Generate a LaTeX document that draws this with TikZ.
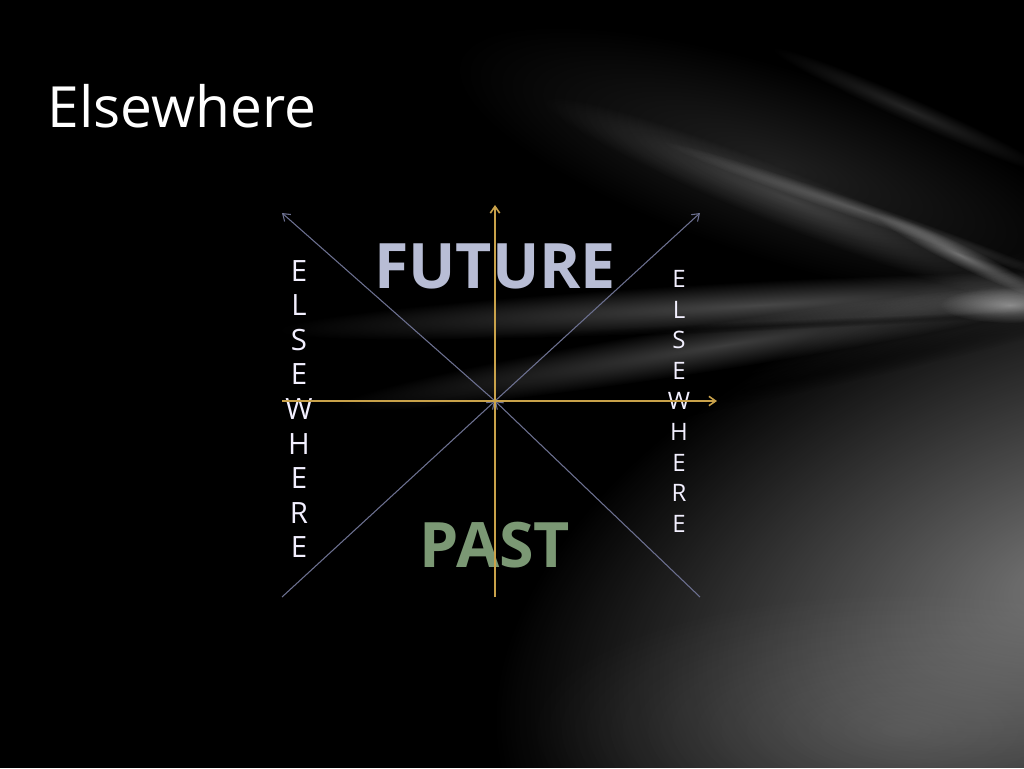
\documentclass[tikz,border=0pt]{standalone}
\usepackage{fontspec}
\setmainfont{Open Sans}
\usetikzlibrary{arrows.meta,fadings}
\definecolor{axisc}{HTML}{C9A24A}
\definecolor{diagc}{HTML}{6C7090}
\definecolor{futc}{HTML}{B8BDD5}
\definecolor{pastc}{HTML}{7B9874}
\definecolor{letc}{HTML}{F3F0FF}
\tikzfading[name=softblob, inner color=transparent!0, outer color=transparent!100]
\newcommand\bgstreak[7]{%
  \begin{scope}[transform canvas={shift={(#1,#2)},rotate=#3}]
    \fill[#7,fill opacity=#6,path fading=softblob] (0,0) ellipse [x radius=#4, y radius=#5];
  \end{scope}}
\begin{document}
\begin{tikzpicture}[x=0.75pt,y=-0.75pt,
  axisline/.style={draw=axisc, line width=1.2pt, -{Straight Barb[length=5pt,width=7pt]}},
  diagline/.style={draw=diagc, line width=0.8pt, -{Straight Barb[length=5pt,width=7pt]}},
  titletext/.style={font=\fontsize{42.6}{50}\selectfont, text=white, inner sep=0pt},
  bigword/.style={font=\fontsize{47}{56}\selectfont\bfseries, inner sep=0pt},
  vletL/.style={font=\fontsize{22}{26}\selectfont, text=letc, inner sep=0pt},
  vletR/.style={font=\fontsize{18}{22}\selectfont, text=letc, inner sep=0pt}]
\useasboundingbox (0,0) rectangle (1024,768);
\fill[black] (0,0) rectangle (1024,768);
% background glow and streaks
\bgstreak{1070}{580}{20}{600}{330}{0.46}{white}
\bgstreak{900}{730}{0}{380}{140}{0.12}{white}
\bgstreak{780}{165}{-18}{340}{95}{0.12}{white}
\bgstreak{790}{200}{-22}{270}{28}{0.18}{white}
\bgstreak{910}{110}{-24}{150}{12}{0.14}{white}
\bgstreak{860}{210}{-19}{210}{9}{0.24}{white}
\bgstreak{960}{255}{-26}{95}{11}{0.40}{white}
\bgstreak{760}{305}{3}{480}{24}{0.28}{white}
\bgstreak{725}{345}{9}{390}{24}{0.24}{white}
\bgstreak{760}{326}{2.6}{320}{5}{0.45}{black}
\bgstreak{770}{384}{12}{330}{15}{0.55}{black}
\bgstreak{1010}{305}{0}{70}{18}{0.45}{white}
% texts
\node[titletext, anchor=base west] (title) at (47.5,127) {Elsewhere};
\node[bigword, text=futc, anchor=base] (future) at (495,288) {FUTURE};
\node[bigword, text=pastc, anchor=base] (past) at (495,567) {PAST};
\foreach \ch [count=\i] in {E,L,S,E,W,H,E,R,E} {
  \node[vletL, anchor=base] (L\i) at (299,{281+34.6*(\i-1)}) {\ch};
  \node[vletR, anchor=base] (R\i) at (679,{287.5+30.6*(\i-1)}) {\ch};
}
% axes
\coordinate (C) at (495,401);
\coordinate (vtop) at (495,205);
\coordinate (vbot) at (495,597);
\coordinate (hl) at (282,401);
\coordinate (hr) at (717,401);
\coordinate (tl) at (282,213);
\coordinate (tr) at (700,213);
\coordinate (bl) at (282,597);
\coordinate (br) at (700,597);
\draw[diagline] (C) -- (tl);
\draw[diagline] (C) -- (tr);
\draw[diagline] (bl) -- (C);
\draw[diagline] (br) -- (C);
\draw[axisline] (vbot) -- (vtop);
\draw[axisline] (hl) -- (hr);
\end{tikzpicture}
\end{document}
